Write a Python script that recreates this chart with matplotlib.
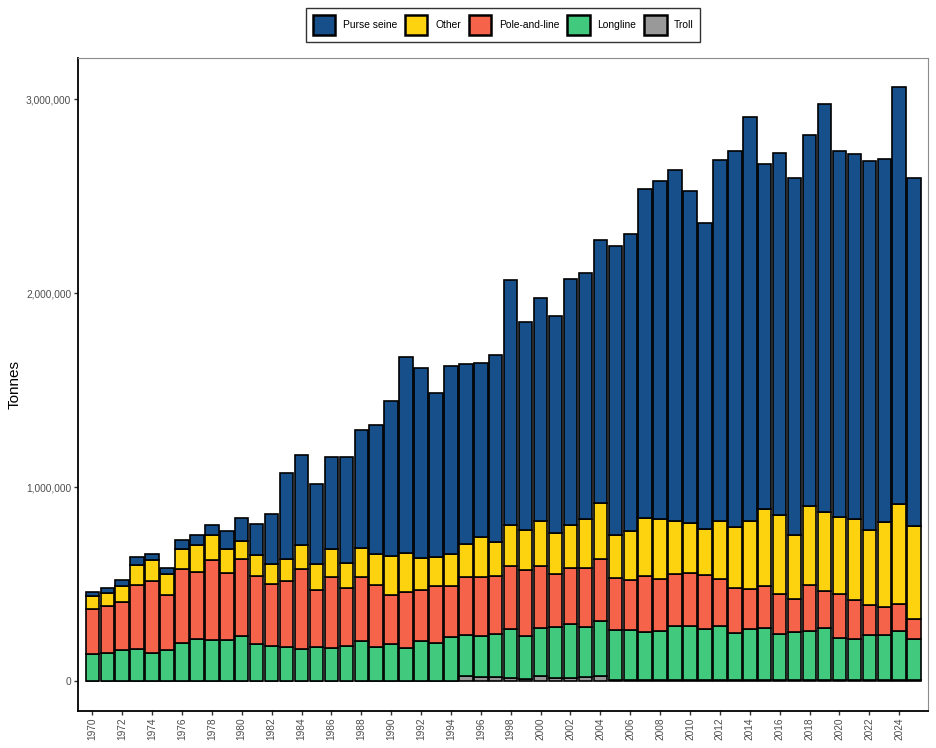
import numpy as np
import matplotlib
matplotlib.use("Agg")
import matplotlib.pyplot as plt
from matplotlib.patches import Patch
from matplotlib.ticker import FuncFormatter

plt.rcParams["font.family"] = ["Liberation Sans", "DejaVu Sans"]

years = np.arange(1970, 2026)

# tonnes (thousands)
troll = [1, 1, 1, 1, 1, 1, 1, 1, 1, 1, 1, 1, 1, 1, 1, 1, 1, 2, 2, 4,
         4, 4, 4, 4, 4, 25, 20, 20, 18, 10, 28, 16, 16, 20, 25, 8, 6, 6, 8, 6,
         7, 5, 6, 5, 5, 5, 5, 5, 5, 5, 8, 8, 6, 5, 5, 5]
longline = [140, 143, 162, 166, 145, 162, 197, 219, 212, 212, 233, 193, 181, 176, 166, 178, 169, 180, 206, 175,
            190, 166, 202, 195, 225, 214, 212, 222, 252, 222, 245, 266, 280, 262, 284, 255, 259, 247, 252, 281,
            280, 265, 278, 244, 265, 272, 241, 248, 255, 272, 214, 211, 233, 234, 253, 215]
pole_and_line = [232, 243, 244, 331, 371, 280, 381, 345, 411, 344, 398, 349, 320, 342, 414, 290, 365, 297, 327, 316,
                 249, 289, 262, 294, 263, 299, 303, 301, 326, 340, 323, 273, 286, 300, 322, 268, 259, 288, 269, 268,
                 273, 276, 245, 232, 208, 215, 202, 173, 237, 187, 228, 199, 155, 146, 141, 103]
other = [69, 69, 86, 103, 109, 112, 105, 136, 129, 125, 90, 110, 105, 110, 120, 138, 145, 131, 151, 160,
         205, 203, 170, 146, 163, 168, 207, 177, 212, 210, 232, 208, 222, 253, 289, 225, 253, 299, 309, 273,
         258, 241, 299, 313, 347, 395, 408, 329, 409, 409, 399, 417, 386, 438, 515, 480]
purse_seine = [17, 25, 31, 40, 32, 29, 46, 55, 55, 91, 118, 158, 257, 445, 464, 412, 477, 547, 611, 668,
               797, 1010, 977, 848, 972, 930, 899, 962, 1259, 1070, 1146, 1122, 1270, 1268, 1357, 1488, 1531, 1698, 1743, 1808,
               1711, 1577, 1858, 1938, 2084, 1777, 1868, 1840, 1912, 2105, 1886, 1885, 1901, 1868, 2150, 1790]

gears = ["Troll", "Longline", "Pole-and-line", "Other", "Purse seine"]
series = [troll, longline, pole_and_line, other, purse_seine]
colors = {"Troll": "#999999", "Longline": "#41c97e", "Pole-and-line": "#f5634a",
          "Other": "#fdd20e", "Purse seine": "#174f8b"}

fig = plt.figure(figsize=(9.36, 7.48), dpi=100)
ax = fig.add_axes([0.0833, 0.0499, 0.9082, 0.8726])

bottom = np.zeros(len(years))
for name, vals in zip(gears, series):
    v = np.array(vals) * 1000.0
    ax.bar(years, v, bottom=bottom, width=0.9, color=colors[name],
           edgecolor="black", linewidth=1.2, zorder=2)
    bottom += v

ax.set_xlim(1969.04, 2025.93)
ax.set_ylim(-151500, 3213000)

ax.set_yticks([0, 1000000, 2000000, 3000000])
ax.yaxis.set_major_formatter(FuncFormatter(lambda v, p: f"{int(v):,}"))
ax.set_xticks(years[::2])
ax.set_xticklabels([str(y) for y in years[::2]], rotation=90)
ax.tick_params(axis="both", labelsize=7.3, labelcolor="#4d4d4d", color="#333333",
               length=3, width=1, pad=1.8)
ax.set_ylabel("Tonnes", fontsize=11)
ax.yaxis.set_label_coords(-0.066, 0.5)

for side in ["left", "bottom"]:
    ax.spines[side].set_color("black")
    ax.spines[side].set_linewidth(1.3)
for side in ["top", "right"]:
    ax.spines[side].set_color("#8c8c8c")
    ax.spines[side].set_linewidth(0.8)

order = ["Purse seine", "Other", "Pole-and-line", "Longline", "Troll"]
handles = [Patch(facecolor=colors[n], edgecolor="black", linewidth=1.8, label=n) for n in order]
leg = fig.legend(handles=handles, loc="center", bbox_to_anchor=(0.5377, 0.9666), ncol=5,
                 fontsize=7.4, frameon=True, fancybox=False, edgecolor="black",
                 handlelength=2.2, handleheight=2.75, handletextpad=0.75,
                 columnspacing=0.75, borderpad=0.6)
leg.get_frame().set_linewidth(1.0)

fig.savefig("out.png", dpi=100)
